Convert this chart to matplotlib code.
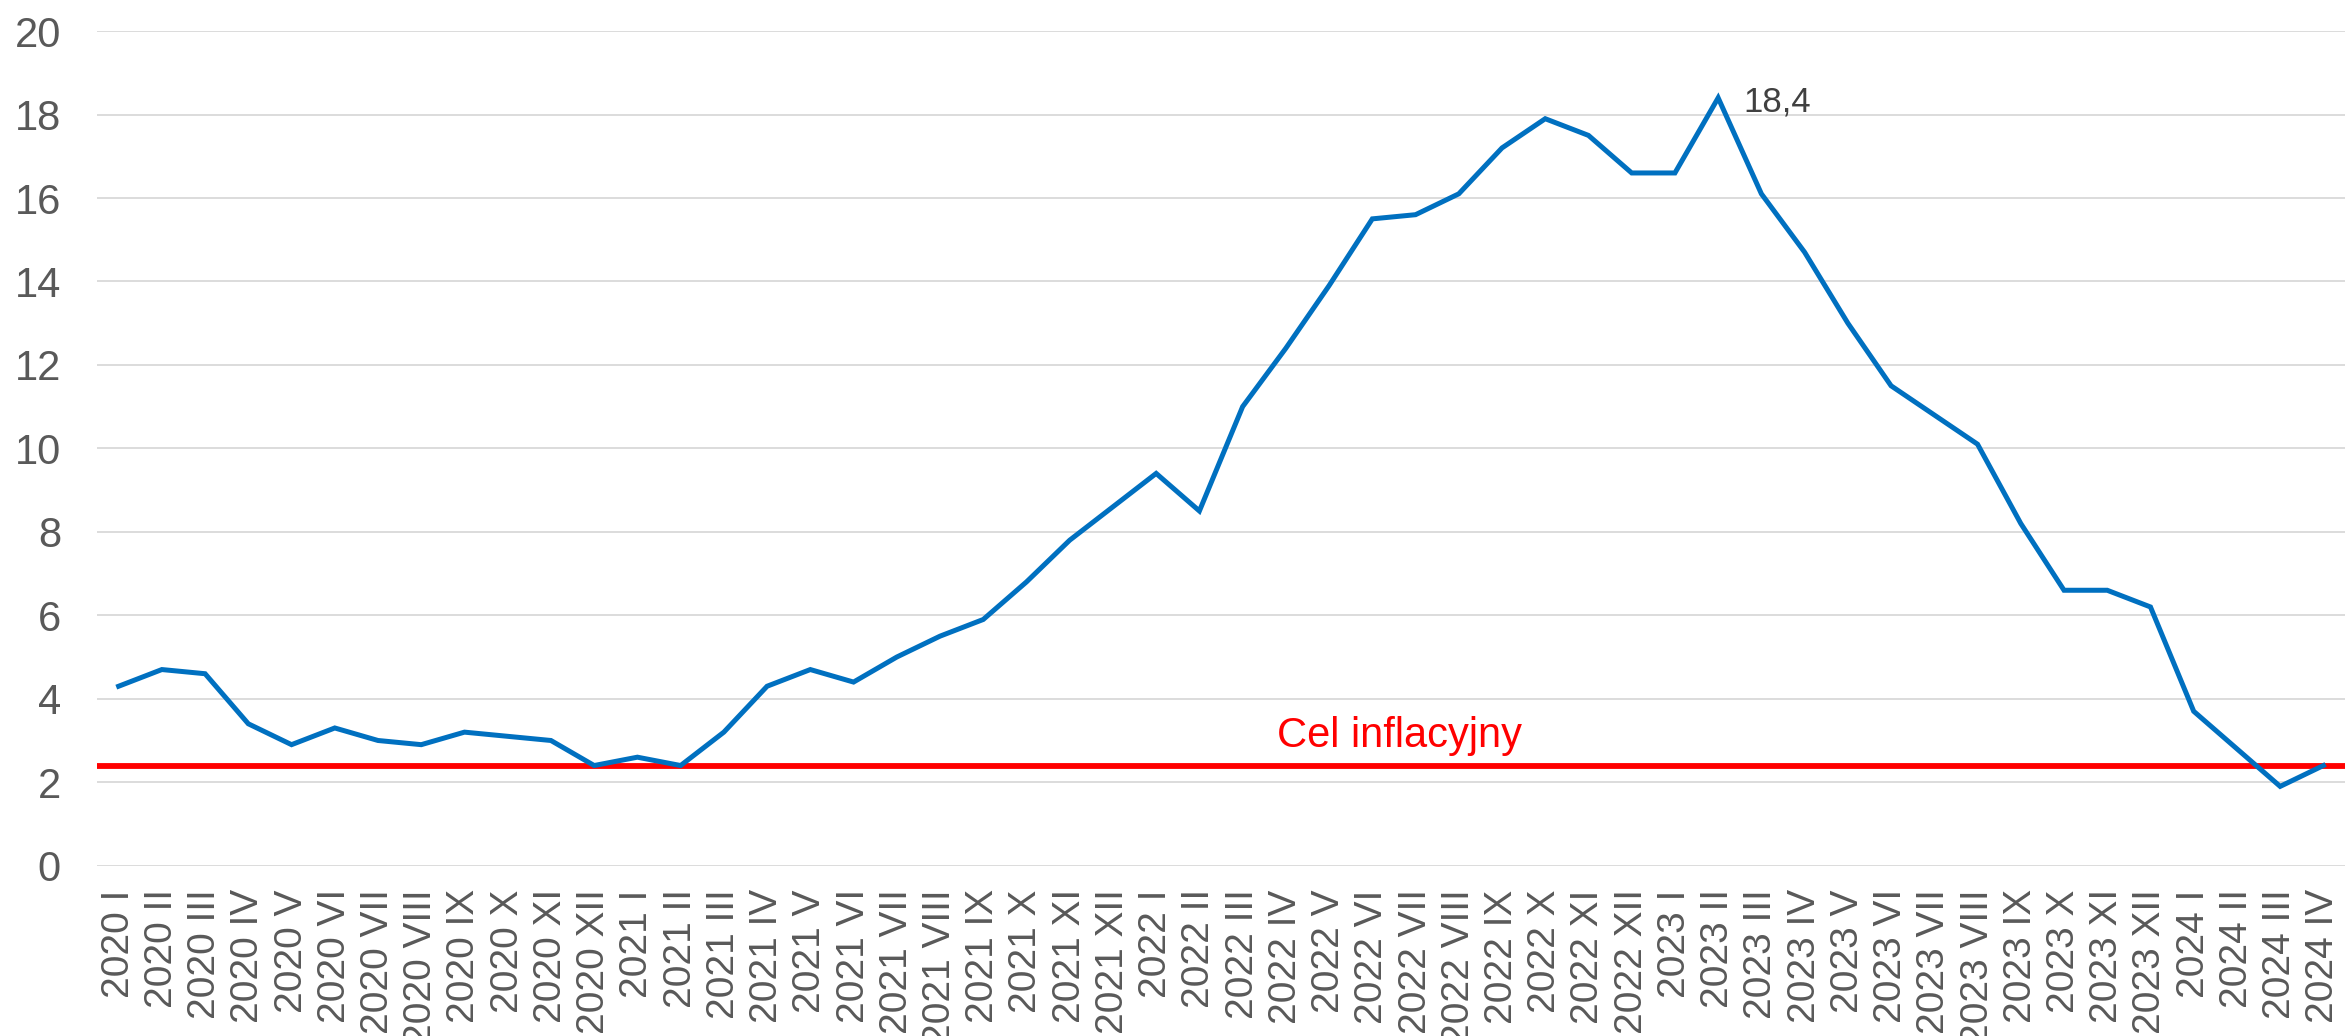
import matplotlib.pyplot as plt

# =====================
# 1. Dane
# =====================
years = ["2020"] * 12 + ["2021"] * 12 + ["2022"] * 12 + ["2023"] * 12 + ["2024"] * 4
months = ["I", "II", "III", "IV", "V", "VI", "VII", "VIII", "IX", "X", "XI", "XII"] * 4 + ["I", "II", "III", "IV"]
labels = [f"{y} {m}" for y, m in zip(years, months)]

cpi = [
    4.3, 4.7, 4.6, 3.4, 2.9, 3.3, 3.0, 2.9, 3.2, 3.1, 3.0, 2.4,
    2.6, 2.4, 3.2, 4.3, 4.7, 4.4, 5.0, 5.5, 5.9, 6.8, 7.8, 8.6,
    9.4, 8.5, 11.0, 12.4, 13.9, 15.5, 15.6, 16.1, 17.2, 17.9, 17.5, 16.6,
    16.6, 18.4, 16.1, 14.7, 13.0, 11.5, 10.8, 10.1, 8.2, 6.6, 6.6, 6.2,
    3.7, 2.8, 1.9, 2.4,
]

target = 2.4
target_label = "Cel inflacyjny"
y_ticks = [0, 2, 4, 6, 8, 10, 12, 14, 16, 18, 20]

# =====================
# 2. Wykres
# =====================
plt.rcParams["font.family"] = ["Liberation Sans", "DejaVu Sans"]

fig = plt.figure(figsize=(23.49, 10.36), dpi=100)
ax = fig.add_axes([0.0413, 0.1644, 0.9570, 0.8056])

x = list(range(len(cpi)))

ax.set_axisbelow(True)
ax.grid(axis="y", color="#d9d9d9", linewidth=1.3)

ax.axhline(target, color="#ff0000", linewidth=4.2, zorder=2)
ax.plot(x, cpi, color="#0070c0", linewidth=3.6, zorder=3,
        solid_joinstyle="miter")

# podpis maksimum
peak = cpi.index(max(cpi))
ax.annotate(
    f"{max(cpi):.1f}".replace(".", ","),
    xy=(peak, cpi[peak]),
    xytext=(18, -10),
    textcoords="offset points",
    ha="left", va="baseline",
    fontsize=25, color="#404040",
)

ax.text(26.8, 2.85, target_label, color="#ff0000", fontsize=30,
        ha="left", va="baseline")

# =====================
# 3. Osie
# =====================
ax.set_xlim(-0.5, len(cpi) - 0.5)
ax.set_ylim(0, 20)
ax.set_yticks(y_ticks)
ax.set_yticklabels([str(t) for t in y_ticks])
ax.set_xticks(x)
ax.set_xticklabels(labels, rotation=90, ha="center", va="top")

ax.tick_params(axis="y", length=0, pad=26, labelsize=30, labelcolor="#595959")
ax.tick_params(axis="x", length=0, pad=17, labelsize=28, labelcolor="#595959")

for s in ax.spines.values():
    s.set_visible(False)

plt.savefig("out.png", dpi=100)
plt.close(fig)
